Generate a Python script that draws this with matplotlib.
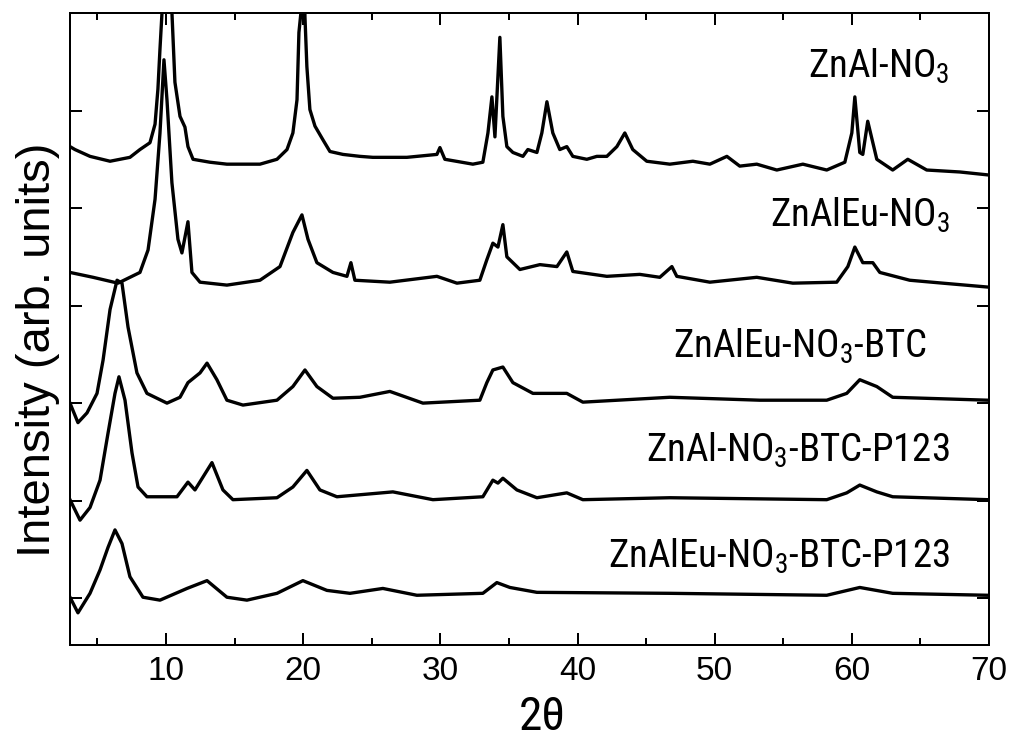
import matplotlib
matplotlib.use('Agg')
import matplotlib.pyplot as plt
from matplotlib import font_manager
from matplotlib.ticker import MultipleLocator

REGULAR = ['Liberation Sans', 'DejaVu Sans']

# look for a narrow sans face (labels in the original are Arial Narrow-like)
narrow_name, narrow_stretch = None, 'normal'
for pref in ['Liberation Sans Narrow', 'Arimo', 'Liberation Sans', 'Noto Sans', 'Roboto',
             'Open Sans', 'Lato', 'Inter', 'DejaVu Sans']:
    for f in font_manager.fontManager.ttflist:
        st = str(f.stretch)
        is_narrow = ('Narrow' in f.name or 'Condensed' in f.name or
                     st in ('condensed', 'semi-condensed', '700', '750', '620', '625'))
        if f.name.startswith(pref) and is_narrow and 'Mono' not in f.name and f.style == 'normal':
            narrow_name, narrow_stretch = f.name, f.stretch
            break
    if narrow_name:
        break

if narrow_name:
    LABEL_FONT = dict(family=[narrow_name, 'DejaVu Sans'], stretch=narrow_stretch)
    label_size = 28
    xlab_size = 34
else:
    LABEL_FONT = dict(family=REGULAR)
    label_size = 24
    xlab_size = 30

plt.rcParams['font.family'] = REGULAR
plt.rcParams['mathtext.fontset'] = 'custom'
plt.rcParams['mathtext.rm'] = narrow_name or 'Liberation Sans'
plt.rcParams['mathtext.default'] = 'rm'

# ZnAl-NO3 (top pattern)
tt_znal = [3.00, 3.36, 4.46, 5.92, 7.37, 8.10, 8.83, 9.20, 9.41, 9.56, 9.71, 10.00, 10.43, 10.65, 11.02,
           11.38, 11.60, 11.97, 13.20, 14.44, 16.85, 18.09, 18.82, 19.25, 19.55, 19.69, 19.84, 20.00,
           20.13, 20.27, 20.49, 20.86, 21.44, 21.95, 22.90, 24.14, 25.08, 27.56, 29.75, 29.97, 30.33,
           32.37, 33.10, 33.47, 33.76, 33.98, 34.34, 34.56, 34.85, 35.29, 36.02, 36.38, 37.04, 37.40,
           37.77, 38.20, 38.71, 39.22, 39.66, 40.68, 41.41, 42.14, 42.87, 43.45, 44.03, 45.05, 46.73,
           48.41, 49.65, 50.89, 51.83, 53.07, 54.53, 56.43, 58.17, 59.49, 60.00, 60.22, 60.58, 60.80,
           61.16, 61.82, 62.98, 64.08, 65.46, 67.87, 69.91]
i_znal = [4.63, 4.60, 4.53, 4.48, 4.52, 4.60, 4.67, 4.86, 5.22, 5.63, 6.01, 7.20, 6.01, 5.29, 4.94,
          4.83, 4.63, 4.50, 4.47, 4.45, 4.45, 4.50, 4.60, 4.77, 5.11, 5.80, 6.01, 7.20,
          5.96, 5.45, 5.01, 4.84, 4.70, 4.58, 4.55, 4.53, 4.52, 4.52, 4.55, 4.62, 4.50,
          4.45, 4.47, 4.77, 5.14, 4.73, 5.75, 4.94, 4.63, 4.57, 4.53, 4.60, 4.57, 4.77,
          5.09, 4.77, 4.60, 4.63, 4.53, 4.50, 4.53, 4.53, 4.63, 4.77, 4.60, 4.48, 4.45,
          4.48, 4.45, 4.53, 4.43, 4.45, 4.39, 4.45, 4.39, 4.47, 4.77, 5.14, 4.57, 4.55,
          4.89, 4.50, 4.39, 4.50, 4.39, 4.37, 4.34]

# ZnAlEu-NO3
tt_znaleu = [3.00, 4.68, 6.50, 8.10, 8.69, 9.20, 9.56, 9.85, 10.07, 10.43, 10.87, 11.16, 11.60, 11.89,
             12.48, 14.44, 16.85, 18.31, 19.25, 19.91, 20.35, 21.00, 22.17, 23.19, 23.48, 23.77, 26.32,
             29.75, 31.21, 32.88, 33.39, 33.83, 34.20, 34.56, 34.85, 35.80, 37.26, 38.50, 39.22, 39.66,
             42.14, 44.54, 46.00, 46.88, 47.24, 49.65, 53.07, 55.70, 58.90, 59.71, 60.22, 60.80, 61.53,
             62.04, 64.22, 66.63, 69.91]
i_znaleu = [3.34, 3.29, 3.23, 3.34, 3.57, 4.09, 4.77, 5.52, 5.11, 4.26, 3.68, 3.54, 3.86, 3.34,
            3.24, 3.21, 3.26, 3.40, 3.75, 3.93, 3.68, 3.44, 3.34, 3.30, 3.44, 3.26, 3.24,
            3.30, 3.23, 3.26, 3.47, 3.64, 3.60, 3.83, 3.50, 3.37, 3.42, 3.40, 3.55, 3.35,
            3.30, 3.32, 3.29, 3.40, 3.30, 3.24, 3.29, 3.23, 3.24, 3.40, 3.60, 3.44, 3.44,
            3.34, 3.26, 3.23, 3.19]

# ZnAlEu-NO3-BTC
tt_btc = [3.00, 3.58, 4.24, 4.97, 5.41, 5.92, 6.43, 6.79, 7.23, 7.88, 8.61, 10.07, 11.02, 11.60, 12.48,
          12.99, 13.71, 14.44, 15.61, 18.09, 19.25, 20.13, 21.00, 22.17, 24.14, 26.32, 28.73, 32.88,
          33.39, 33.83, 34.56, 35.29, 36.75, 39.22, 40.39, 46.73, 53.29, 58.17, 59.63, 60.58, 61.82,
          62.98, 69.91]
i_btc = [2.00, 1.80, 1.90, 2.10, 2.44, 2.96, 3.26, 3.23, 2.78, 2.31, 2.10, 2.00, 2.06, 2.21, 2.31,
         2.41, 2.24, 2.03, 1.98, 2.03, 2.17, 2.34, 2.17, 2.05, 2.06, 2.12, 2.00, 2.03,
         2.21, 2.34, 2.37, 2.21, 2.10, 2.10, 2.01, 2.06, 2.03, 2.03, 2.10, 2.24, 2.17,
         2.06, 2.03]

# ZnAl-NO3-BTC-P123
tt_znal_p123 = [3.00, 3.73, 4.46, 5.19, 5.77, 6.28, 6.57, 7.01, 7.52, 7.96, 8.61, 10.80, 11.60, 12.11,
                13.35, 14.15, 14.88, 18.09, 19.25, 20.27, 21.22, 22.46, 26.54, 29.46, 33.10, 33.83,
                34.20, 34.56, 35.58, 37.04, 39.22, 40.39, 46.73, 58.17, 59.63, 60.58, 61.82, 62.98, 69.91]
i_znal_p123 = [1.01, 0.80, 0.93, 1.21, 1.69, 2.10, 2.27, 2.03, 1.49, 1.14, 1.04, 1.04, 1.19, 1.11,
               1.39, 1.11, 1.01, 1.03, 1.14, 1.31, 1.11, 1.04, 1.09, 1.01, 1.04, 1.21,
               1.18, 1.23, 1.11, 1.03, 1.08, 1.01, 1.03, 1.01, 1.08, 1.16, 1.09, 1.04, 1.01]

# ZnAlEu-NO3-BTC-P123
tt_znaleu_p123 = [3.00, 3.58, 4.46, 5.19, 5.77, 6.28, 6.79, 7.37, 8.32, 9.56, 11.53, 12.99, 14.44, 15.90,
                  18.09, 19.98, 21.73, 23.41, 25.81, 28.29, 33.10, 34.12, 35.07, 37.04, 46.73, 58.17,
                  60.58, 62.98, 69.91]
i_znaleu_p123 = [0.01, -0.15, 0.05, 0.29, 0.52, 0.70, 0.56, 0.22, 0.01, -0.02, 0.10, 0.18, 0.01, -0.02,
                 0.05, 0.18, 0.08, 0.05, 0.10, 0.03, 0.05, 0.16, 0.11, 0.06, 0.05, 0.03,
                 0.11, 0.05, 0.03]

series = [
    (tt_znal, i_znal),
    (tt_znaleu, i_znaleu),
    (tt_btc, i_btc),
    (tt_znal_p123, i_znal_p123),
    (tt_znaleu_p123, i_znaleu_p123),
]

labels = ['ZnAl-NO$_3$', 'ZnAlEu-NO$_3$', 'ZnAlEu-NO$_3$-BTC',
          'ZnAl-NO$_3$-BTC-P123', 'ZnAlEu-NO$_3$-BTC-P123']
label_x = [67.15, 67.15, 65.5, 67.15, 67.15]
label_y = [5.34, 3.81, 2.47, 1.40, 0.31]

fig = plt.figure(figsize=(10.13, 7.38), dpi=100)
ax = fig.add_axes([0.0691, 0.126, 0.9072, 0.8564])

for tt, inten in series:
    ax.plot(tt, inten, color='black', lw=2.4, solid_joinstyle='round')

for lab, lx, ly in zip(labels, label_x, label_y):
    ax.text(lx, ly, lab, ha='right', va='baseline', fontsize=label_size, **LABEL_FONT)

ax.set_xlim(3, 70)
ax.set_ylim(-0.48, 6.0)
ax.xaxis.set_major_locator(MultipleLocator(10))
ax.xaxis.set_minor_locator(MultipleLocator(5))
ax.yaxis.set_major_locator(MultipleLocator(1))

ax.tick_params(which='both', direction='in', top=True, right=True, width=1.44)
ax.tick_params(which='major', length=8.6, pad=8, labelsize=24)
ax.tick_params(which='minor', length=5)
ax.tick_params(axis='y', labelleft=False)
for sp in ax.spines.values():
    sp.set_linewidth(1.44)

ax.set_xlabel('2θ', fontsize=xlab_size, va='baseline', **LABEL_FONT)
ax.xaxis.set_label_coords(0.514, -0.135)
ax.set_ylabel('Intensity (arb. units)', fontsize=34, family=REGULAR)
ax.yaxis.set_label_coords(-0.011, 0.467)

fig.savefig('out.png', dpi=100)
